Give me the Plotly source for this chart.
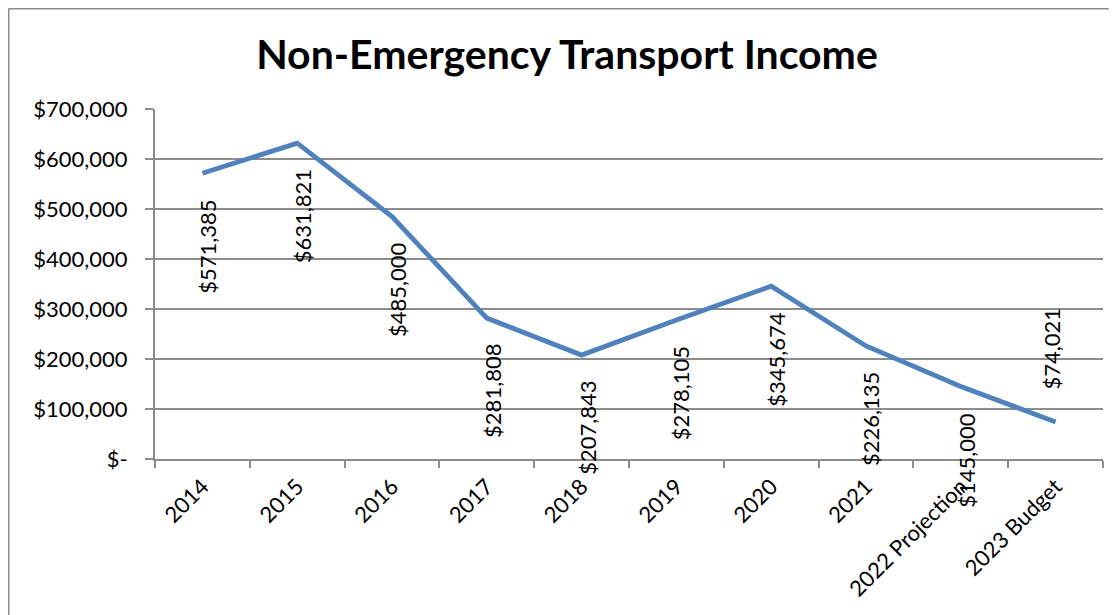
import plotly.graph_objects as go

# ---- data ----
categories = ["2014", "2015", "2016", "2017", "2018", "2019", "2020", "2021",
              "2022 Projection", "2023 Budget"]
income = [571385, 631821, 485000, 281808, 207843, 278105, 345674, 226135, 145000, 74021]
y_tick_values = [0, 100000, 200000, 300000, 400000, 500000, 600000, 700000]
y_tick_labels = ["$-", "$100,000", "$200,000", "$300,000", "$400,000",
                 "$500,000", "$600,000", "$700,000"]
title_text = "Non-Emergency Transport Income"

# ---- style ----
W, H = 1117, 615
OFF = 8  # page body margin
ML, MR, MT, MB = 155 - OFF, 14 + OFF, 109 - OFF, 156 + OFF
FONT = "Lato"
GRID = "#8c8c8c"
LINE = "#4f81bd"
labels_above = {"2023 Budget"}

fig = go.Figure()
fig.add_trace(go.Scatter(
    x=categories, y=income, mode="lines",
    line=dict(color=LINE, width=4.8),
    hoverinfo="skip", showlegend=False,
))

for i, (c, v) in enumerate(zip(categories, income)):
    txt = "${:,}".format(v)
    if c in labels_above:
        fig.add_annotation(x=i, y=v, text=txt, textangle=-90, showarrow=False,
                           xanchor="center", yanchor="bottom", yshift=30, xshift=-4,
                           font=dict(family=FONT, size=22, color="#000"))
    else:
        fig.add_annotation(x=i, y=v, text=txt, textangle=-90, showarrow=False,
                           xanchor="center", yanchor="top", yshift=-24, xshift=5,
                           font=dict(family=FONT, size=22, color="#000"))

plot_w = W - ML - MR
plot_h = H - MT - MB
# chart border (top and left edges visible)
bx = (0.5 - ML) / plot_w
by = (H - MB - 0.5) / plot_h
fig.add_shape(type="line", xref="paper", yref="paper",
              x0=bx, y0=-(MB + 5) / plot_h, x1=bx, y1=by,
              line=dict(color=GRID, width=2))
fig.add_shape(type="line", xref="paper", yref="paper",
              x0=bx, y0=by, x1=(W + 5 - ML) / plot_w, y1=by,
              line=dict(color=GRID, width=2))

fig.update_layout(
    width=W, height=H,
    margin=dict(l=ML, r=MR, t=MT, b=MB),
    paper_bgcolor="white", plot_bgcolor="white",
    title=dict(text=title_text, x=(567 - OFF) / W, xanchor="center", xref="container",
               y=1 - (55 - OFF) / H, yanchor="middle", yref="container",
               font=dict(family=FONT, size=41, color="#000", weight="bold")),
    font=dict(family=FONT, size=22, color="#000"),
)
fig.update_xaxes(
    type="category", tickangle=-45, showgrid=False,
    showline=True, linecolor=GRID, linewidth=2,
    ticks="outside", tickson="boundaries", ticklen=7, tickwidth=2, tickcolor=GRID,
    tickfont=dict(family=FONT, size=22, color="#000"), ticklabelstandoff=4,
    range=[-0.5, len(categories) - 0.5],
)
fig.update_yaxes(
    range=[0, 700000], tickvals=y_tick_values, ticktext=y_tick_labels,
    showgrid=True, gridcolor=GRID, gridwidth=2,
    showline=True, linecolor=GRID, linewidth=2,
    ticks="outside", ticklen=8, tickwidth=2, tickcolor=GRID,
    tickfont=dict(family=FONT, size=22, color="#000"), ticklabelstandoff=13,
    zeroline=False,
)

fig.write_html("out.html")
